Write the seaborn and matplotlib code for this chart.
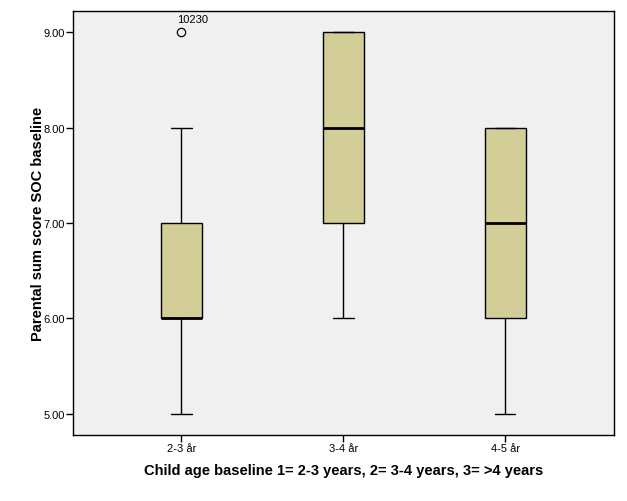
import pandas as pd
import matplotlib
matplotlib.use("Agg")
import matplotlib.pyplot as plt
import seaborn as sns

# scores per age group (reconstructed so the box stats match the picture)
age_groups = ['2-3 år', '3-4 år', '4-5 år']
scores_2_3 = [5, 6, 6, 6, 6, 7, 7, 8, 9]
scores_3_4 = [6, 7, 7, 8, 8, 9, 9, 9, 9]
scores_4_5 = [5, 6, 6, 7, 7, 8, 8, 8, 8]
outlier_label = '10230'
outlier_value = 9
y_ticks = [5, 6, 7, 8, 9]

df = pd.DataFrame({
    'age': [age_groups[0]] * len(scores_2_3) + [age_groups[1]] * len(scores_3_4)
           + [age_groups[2]] * len(scores_4_5),
    'score': scores_2_3 + scores_3_4 + scores_4_5,
})

sns.set_style("ticks")
plt.rcParams['font.family'] = ['Liberation Sans', 'DejaVu Sans']
plt.rcParams['text.color'] = 'black'
plt.rcParams['axes.labelcolor'] = 'black'
plt.rcParams['xtick.color'] = 'black'
plt.rcParams['ytick.color'] = 'black'

fig = plt.figure(figsize=(6.27, 5.02), dpi=100)
ax = fig.add_axes([0.1164, 0.1315, 0.8626, 0.8445])
ax.set_facecolor('#f0f0f0')

sns.boxplot(
    data=df, x='age', y='score', order=age_groups, ax=ax,
    color='#d3ce97', saturation=1, width=0.25, whis=1.5,
    linecolor='black', linewidth=1,
    medianprops=dict(color='black', linewidth=2),
    flierprops=dict(marker='o', markersize=6, markerfacecolor='none',
                    markeredgecolor='black', markeredgewidth=0.9),
)

ax.annotate(outlier_label, xy=(0, outlier_value), xytext=(-3, 6),
            textcoords='offset points', fontsize=8, ha='left', va='bottom')

ax.set_xlim(-0.67, 2.67)
ax.set_ylim(4.78, 9.22)
ax.set_yticks(y_ticks)
ax.set_yticklabels([f'{v:.2f}' for v in y_ticks])
ax.tick_params(axis='both', labelsize=8, length=5, width=1, color='black',
               labelcolor='black', pad=1)

for s in ax.spines.values():
    s.set_visible(True)
    s.set_color('black')
    s.set_linewidth(1)

ax.set_xlabel('Child age baseline 1= 2-3 years, 2= 3-4 years, 3= >4 years',
              fontsize=10.5, fontweight='bold', labelpad=7)
ax.set_ylabel('Parental sum score SOC baseline',
              fontsize=10.5, fontweight='bold', labelpad=-1.5)

fig.savefig('out.png', dpi=100)
